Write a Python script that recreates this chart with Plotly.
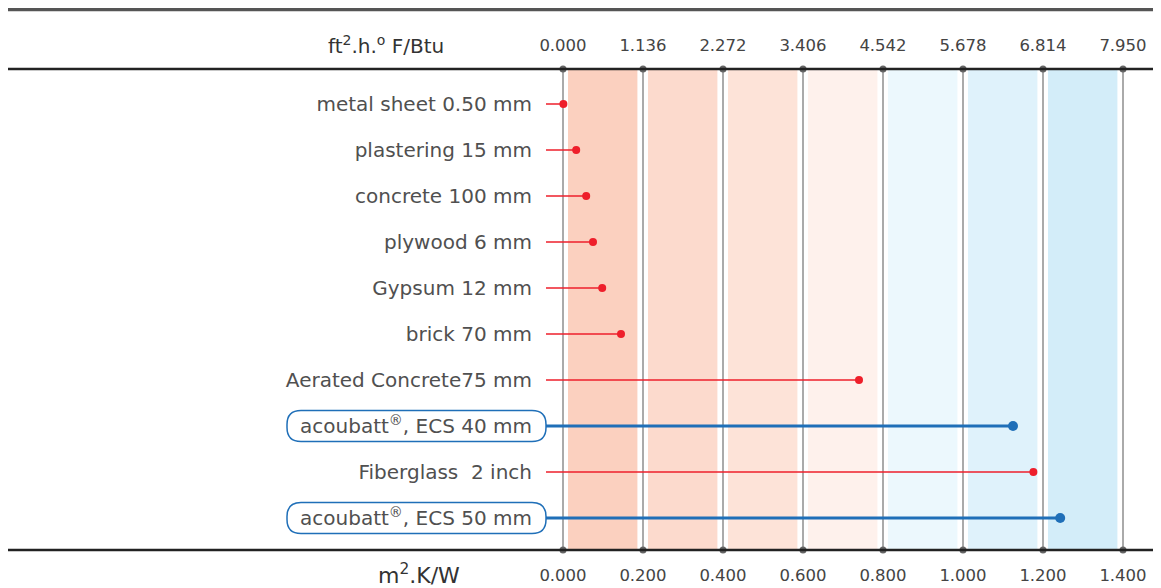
import plotly.graph_objects as go

categories = ["metal sheet 0.50 mm", "plastering 15 mm", "concrete 100 mm", "plywood 6 mm",
              "Gypsum 12 mm", "brick 70 mm", "Aerated Concrete75 mm",
              "acoubatt<sup>®</sup>, ECS 40 mm", "Fiberglass  2 inch", "acoubatt<sup>®</sup>, ECS 50 mm"]
r_values = [0.001, 0.033, 0.058, 0.075, 0.098, 0.145, 0.740, 1.125, 1.176, 1.243]
is_acoubatt = [False, False, False, False, False, False, False, True, False, True]

si_ticks = [0.0, 0.2, 0.4, 0.6, 0.8, 1.0, 1.2, 1.4]
si_labels = ["0.000", "0.200", "0.400", "0.600", "0.800", "1.000", "1.200", "1.400"]
imp_labels = ["0.000", "1.136", "2.272", "3.406", "4.542", "5.678", "6.814", "7.950"]
band_colors = ["#FBD0BF", "#FCDACD", "#FDE3D8", "#FEF1EC", "#ECF8FD", "#DFF2FB", "#D3EDF9"]

OFF = 8  # page body margin
W, H = 1161 - OFF, 588 - OFF


def fx(p):  # reference pixel -> figure pixel
    return p - OFF


ML = fx(546)
MT = fx(69)
MB = H - fx(550)
MR = 0
PW = W - ML - MR
PH = H - MT - MB
PX = 400.0  # pixels per unit
x_left = -(fx(563) - ML) / PX
x_right = x_left + PW / PX
row_px = 46.0
y_top = -35 / row_px
y_bot = 9 + 32 / row_px


def paper_x(p):
    return (fx(p) - ML) / PW


def paper_y(p):
    return 1 - (fx(p) - MT) / PH


RED = "#EE1F2B"
BLUE = "#1F6FB8"
TXT = "#505050"
FONT = "DejaVu Sans"

fig = go.Figure()

shapes = []
for i, c in enumerate(band_colors):
    shapes.append(dict(type="rect", xref="x", yref="paper", x0=si_ticks[i] + 0.0125,
                       x1=si_ticks[i + 1] - 0.014, y0=0, y1=1, fillcolor=c,
                       line=dict(width=0), layer="below"))

for i, (cat, v, ac) in enumerate(zip(categories, r_values, is_acoubatt)):
    col = BLUE if ac else RED
    fig.add_trace(go.Scatter(x=[x_left, v], y=[i, i], mode="lines",
                             line=dict(color=col, width=3 if ac else 1.5),
                             hoverinfo="skip", showlegend=False))
    fig.add_trace(go.Scatter(x=[v], y=[i], mode="markers",
                             marker=dict(color=col, size=10 if ac else 8),
                             showlegend=False, cliponaxis=False))

fig.add_trace(go.Scatter(x=si_ticks * 2, y=[y_top] * len(si_ticks) + [y_bot] * len(si_ticks),
                         mode="markers", marker=dict(color="#666666", size=7),
                         hoverinfo="skip", showlegend=False, cliponaxis=False))
fig.add_trace(go.Scatter(x=si_ticks, y=[y_top] * len(si_ticks), xaxis="x2", mode="markers",
                         marker=dict(size=1, color="rgba(0,0,0,0)"), hoverinfo="skip",
                         showlegend=False))

x0p = -ML / PW
shapes.append(dict(type="line", xref="paper", yref="paper", x0=x0p, x1=1, y0=1, y1=1,
                   line=dict(color="#222222", width=2.5), layer="above"))
shapes.append(dict(type="line", xref="paper", yref="paper", x0=x0p, x1=1, y0=0, y1=0,
                   line=dict(color="#222222", width=2.5), layer="above"))
shapes.append(dict(type="line", xref="paper", yref="paper", x0=paper_x(6), x1=1,
                   y0=paper_y(9.5), y1=paper_y(9.5), line=dict(color="#555555", width=3.5)))


def rounded_paper(xa, xb, ya, yb, r):
    X = paper_x
    Y = paper_y
    return (f"M {X(xa + r)},{Y(ya)} L {X(xb - r)},{Y(ya)} Q {X(xb)},{Y(ya)} {X(xb)},{Y(ya + r)} "
            f"L {X(xb)},{Y(yb - r)} Q {X(xb)},{Y(yb)} {X(xb - r)},{Y(yb)} "
            f"L {X(xa + r)},{Y(yb)} Q {X(xa)},{Y(yb)} {X(xa)},{Y(yb - r)} "
            f"L {X(xa)},{Y(ya + r)} Q {X(xa)},{Y(ya)} {X(xa + r)},{Y(ya)} Z")


for i, ac in enumerate(is_acoubatt):
    if ac:
        cy = 104 + row_px * i
        shapes.append(dict(type="path", xref="paper", yref="paper",
                           path=rounded_paper(287, 546, cy - 15.5, cy + 15.5, 14),
                           line=dict(color=BLUE, width=1.5), fillcolor="rgba(0,0,0,0)"))

annotations = [
    dict(text="ft<sup>2</sup>.h.<sup>o</sup> F/Btu", xref="paper", yref="paper",
         x=paper_x(446), y=paper_y(45), xanchor="right",
         yanchor="middle", showarrow=False, font=dict(family=FONT, size=20, color="#333333")),
    dict(text="m<sup>2</sup>.K/W", xref="paper", yref="paper",
         x=paper_x(419), y=paper_y(574), xanchor="center",
         yanchor="middle", showarrow=False, font=dict(family=FONT, size=22, color="#333333")),
]

fig.update_layout(
    width=W, height=H,
    margin=dict(l=ML, r=MR, t=MT, b=MB, pad=0),
    plot_bgcolor="white", paper_bgcolor="white",
    shapes=shapes, annotations=annotations,
    font=dict(family=FONT, color=TXT),
    xaxis=dict(range=[x_left, x_right], tickvals=si_ticks, ticktext=si_labels,
               showgrid=True, gridcolor="#AAAAAA", gridwidth=1.6, zeroline=False,
               showline=False, ticks="outside", ticklen=10, tickcolor="rgba(0,0,0,0)",
               tickfont=dict(family=FONT, size=16.5, color="#444444")),
    xaxis2=dict(range=[x_left, x_right], overlaying="x", side="top", tickvals=si_ticks,
                ticktext=imp_labels, showgrid=False, zeroline=False, showline=False,
                ticks="outside", ticklen=10, tickcolor="rgba(0,0,0,0)",
                tickfont=dict(family=FONT, size=16.5, color="#444444")),
    yaxis=dict(range=[y_bot, y_top], tickvals=list(range(len(categories))),
               ticktext=categories, showgrid=False, zeroline=False, showline=False,
               ticks="outside", ticklen=9, tickcolor="rgba(0,0,0,0)",
               tickfont=dict(family=FONT, size=20, color=TXT)),
)

fig.write_html("out.html")
